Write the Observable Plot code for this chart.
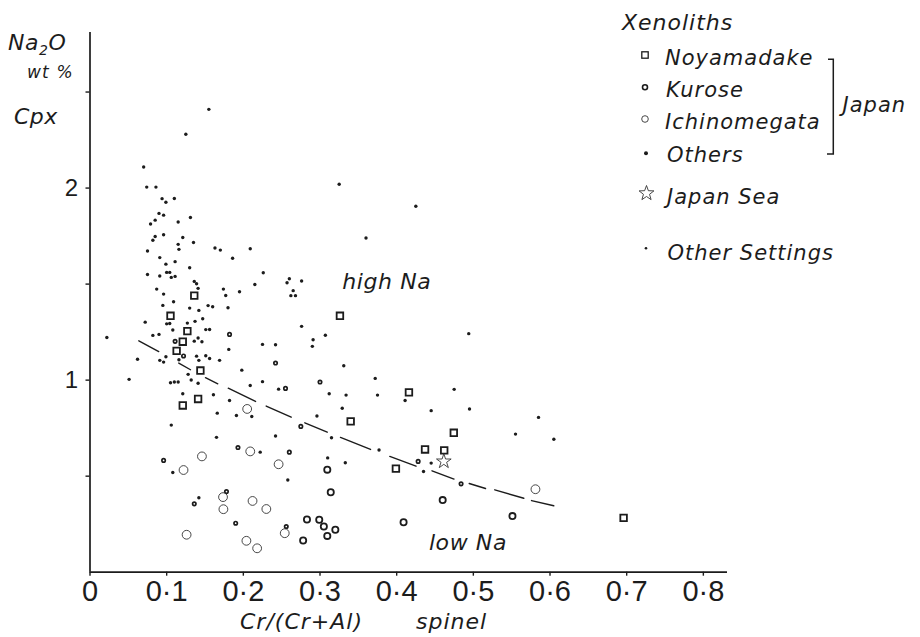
<!DOCTYPE html>
<html><head><meta charset="utf-8">
<script src="https://cdn.jsdelivr.net/npm/d3@7"></script>
<script src="https://cdn.jsdelivr.net/npm/@observablehq/plot@0.6"></script>
<style>
body{margin:0;background:#fff;}
#wrap{position:relative;width:920px;height:637px;overflow:hidden;}
#wrap > svg{position:absolute;left:0;top:0;}
#overlay{pointer-events:none;}
</style></head><body><div id="wrap"></div>
<script>
// ---- data (Cr/(Cr+Al) spinel, Na2O wt% cpx) ----
const otherSettings = [
[0.155,2.41],[0.125,2.28],[0.325,2.02],[0.425,1.905],[0.360,1.74],
[0.070,2.11],[0.074,2.005],[0.086,2.005],[0.094,1.945],[0.099,1.926],[0.110,1.946],[0.090,1.868],[0.096,1.859],[0.085,1.833],[0.079,1.813],[0.115,1.823],[0.131,1.847],[0.085,1.748],[0.082,1.728],[0.096,1.757],[0.121,1.743],[0.115,1.707],[0.116,1.681],[0.135,1.717],[0.075,1.672],[0.163,1.688],[0.170,1.677],[0.091,1.638],[0.111,1.617],[0.099,1.604],
[0.209,1.684],[0.186,1.635],[0.226,1.559],[0.215,1.498],[0.257,1.507],[0.260,1.528],[0.276,1.516],[0.265,1.466],[0.262,1.44],[0.268,1.44],[0.174,1.474],[0.177,1.441],[0.195,1.46],[0.180,1.377],
[0.130,1.585],[0.075,1.55],[0.091,1.542],[0.100,1.561],[0.104,1.561],[0.106,1.535],[0.111,1.54],[0.136,1.514],[0.139,1.502],[0.141,1.478],[0.087,1.474],[0.096,1.448],[0.109,1.408],[0.095,1.389],[0.130,1.375],[0.142,1.363],[0.154,1.388],[0.160,1.382],[0.072,1.302],[0.100,1.293],[0.104,1.295],[0.108,1.261],[0.127,1.297],[0.137,1.306],[0.147,1.32],[0.151,1.263],[0.156,1.264],[0.082,1.233],[0.090,1.238],[0.022,1.222],[0.136,1.203],[0.141,1.219],[0.146,1.2],[0.139,1.125],[0.151,1.127],[0.156,1.113],[0.062,1.109],[0.091,1.103],[0.096,1.094],[0.099,1.122],[0.116,1.106],[0.142,1.103],[0.169,1.103],[0.128,1.03],
[0.051,1.004],[0.105,0.986],[0.110,0.99],[0.115,0.99],[0.132,1.001],[0.141,0.984],[0.121,0.929],[0.161,0.924],[0.166,0.828],[0.106,0.766],[0.165,0.702],[0.182,0.894],[0.191,0.816],[0.211,0.811],[0.242,0.709],[0.222,0.625],[0.296,0.813],[0.315,0.70],[0.310,0.595],[0.258,0.48],[0.209,0.972],[0.225,0.992],[0.246,0.953],[0.312,0.929],[0.198,1.052],[0.181,1.16],[0.225,1.186],[0.242,1.184],[0.276,1.28],[0.291,1.21],[0.290,1.176],[0.307,1.234],[0.108,0.519],[0.142,0.388],
[0.331,1.075],[0.372,1.009],[0.334,0.922],[0.375,0.922],[0.475,0.952],[0.411,0.894],[0.329,0.854],[0.445,0.841],[0.495,0.85],[0.494,1.242],[0.377,0.636],[0.333,0.57],[0.445,0.568],[0.435,0.524],[0.555,0.719],[0.585,0.806],[0.605,0.692]
];
const japanOthers = [
[0.182,1.238],[0.111,1.202],[0.122,1.126],[0.242,1.089],[0.255,0.957],[0.300,0.99],[0.275,0.759],[0.193,0.649],[0.260,0.625],[0.096,0.582],[0.178,0.42],[0.136,0.356],[0.190,0.255],[0.256,0.238],[0.428,0.577],[0.484,0.46]
];
const kurose = [
[0.3095,0.534],[0.314,0.416],[0.283,0.274],[0.299,0.273],[0.305,0.238],[0.320,0.221],[0.3095,0.189],[0.278,0.165],[0.409,0.26],[0.460,0.3755],[0.551,0.292]
];
const ichinomegata = [
[0.205,0.85],[0.209,0.629],[0.146,0.603],[0.122,0.532],[0.246,0.562],[0.1735,0.391],[0.174,0.328],[0.212,0.371],[0.230,0.329],[0.126,0.195],[0.254,0.203],[0.204,0.1635],[0.218,0.1245],[0.581,0.432]
];
const noyamadake = [
[0.136,1.44],[0.105,1.335],[0.127,1.255],[0.121,1.20],[0.113,1.152],[0.144,1.05],[0.121,0.868],[0.141,0.902],[0.326,1.335],[0.340,0.785],[0.416,0.936],[0.4745,0.726],[0.437,0.639],[0.462,0.634],[0.399,0.539],[0.696,0.283]
];
const japanSea = [[0.4615,0.577]];
// boundary curve, drawn as long dashes (start/end of each dash)
const boundaryDashes = [
[[0.0637,1.205],[0.0897,1.149]],
[[0.1158,1.089],[0.1311,1.054]],
[[0.1506,1.0125],[0.1667,0.981]],
[[0.1803,0.958],[0.2159,0.889]],
[[0.2298,0.865],[0.2624,0.807]],
[[0.2802,0.778],[0.3094,0.729]],
[[0.3267,0.702],[0.3659,0.639]],
[[0.391,0.603],[0.4252,0.552]],
[[0.4461,0.528],[0.4748,0.485]],
[[0.4946,0.462],[0.5159,0.436]],
[[0.528,0.429],[0.5658,0.385]],
[[0.5759,0.373],[0.6049,0.346]]
];
const xTicks = [0,0.1,0.2,0.3,0.4,0.5,0.6,0.7,0.8];
const yTicks = [0.5,1,1.5,2,2.5];
const yTickLabels = [1,2];
const regionLabels = [{x:0.329,y:1.472,text:"high Na"},{x:0.442,y:0.113,text:"low Na"}];

const dashRows = boundaryDashes.flatMap((seg,i)=>seg.map(p=>({id:i,x:p[0],y:p[1]})));
const ink = "#1c1c1c";
const italic = "DejaVu Sans, sans-serif";

const chart = Plot.plot({
  width: 920, height: 637,
  marginLeft: 89.5, marginRight: 193, marginTop: 32, marginBottom: 65.3,
  style: {background: "white", color: ink, fontFamily: "Liberation Sans, Arial, sans-serif"},
  x: {domain: [0, 0.8315]},
  y: {domain: [0, 2.81]},
  marks: [
    Plot.axisX({ticks: xTicks, tickSize: 4, tickPadding: 4, fontSize: 29, label: null, strokeWidth: 1.4,
      tickFormat: d => d === 0 ? "0" : d.toFixed(1).replace(".", "\u00B7")}),
    Plot.axisY({ticks: yTicks, tickSize: 4, tickPadding: 8, fontSize: 24, label: null, strokeWidth: 1.4,
      tickFormat: d => yTickLabels.includes(d) ? String(d) : ""}),
    Plot.ruleX([0], {stroke: ink, strokeWidth: 1.7}),
    Plot.ruleY([0], {stroke: ink, strokeWidth: 1.7}),
    Plot.line(dashRows, {x: "x", y: "y", z: "id", stroke: ink, strokeWidth: 1.4}),
    Plot.dot(otherSettings, {x: d => d[0], y: d => d[1], r: 1.7, fill: ink}),
    Plot.dot(japanOthers, {x: d => d[0], y: d => d[1], r: 1.7, fill: "white", stroke: ink, strokeWidth: 1.7}),
    Plot.dot(kurose, {x: d => d[0], y: d => d[1], r: 3.1, fill: "none", stroke: ink, strokeWidth: 1.8}),
    Plot.dot(ichinomegata, {x: d => d[0], y: d => d[1], r: 4.4, fill: "none", stroke: "#333", strokeWidth: 0.9}),
    Plot.dot(noyamadake, {x: d => d[0], y: d => d[1], symbol: "square", r: 3.7, fill: "none", stroke: ink, strokeWidth: 1.8}),
    Plot.dot(japanSea, {x: d => d[0], y: d => d[1], symbol: "star", r: 4.6, fill: "white", stroke: "#333", strokeWidth: 0.9}),
    Plot.text(regionLabels, {x: "x", y: "y", text: "text", textAnchor: "start", lineAnchor: "bottom",
      fontSize: 22, fontStyle: "italic", fontFamily: italic, fill: ink})
  ]
});
document.getElementById("wrap").appendChild(chart);
chart.querySelectorAll('[aria-label="region"], text').forEach(()=>{});
// letter spacing on region labels
chart.querySelectorAll('g[font-style="italic"] text, g[font-family^="DejaVu"] text').forEach(t=>t.setAttribute("letter-spacing","0.6"));

// star for legend
function starPts(cx, cy, R, r){
  const pts=[];
  for(let i=0;i<10;i++){const a=-Math.PI/2+i*Math.PI/5;const rr=i%2?r:R;pts.push((cx+rr*Math.cos(a)).toFixed(2)+","+(cy+rr*Math.sin(a)).toFixed(2));}
  return pts.join(" ");
}
const legendItems = ["Noyamadake","Kurose","Ichinomegata","Others","Japan Sea","Other Settings"];
const ov = `
<svg id="overlay" width="920" height="637" xmlns="http://www.w3.org/2000/svg" font-family="${italic}" font-style="italic" fill="${ink}">
  <text x="8" y="50" font-size="22" letter-spacing="0.5">Na<tspan font-size="14" dy="5">2</tspan><tspan dy="-5">O</tspan></text>
  <text x="27" y="78" font-size="17" letter-spacing="1.2">wt %</text>
  <text x="14" y="124" font-size="22" letter-spacing="0.5">Cpx</text>
  <text x="240" y="629" font-size="22" letter-spacing="1">Cr/(Cr+Al)</text>
  <text x="416" y="629" font-size="22" letter-spacing="1">spinel</text>
  <text x="622" y="30" font-size="22" letter-spacing="1">Xenoliths</text>
  <rect x="641.8" y="51.8" width="6.4" height="6.4" fill="none" stroke="${ink}" stroke-width="1.3"/>
  <text x="665" y="65" font-size="21" letter-spacing="1">${legendItems[0]}</text>
  <circle cx="645" cy="87.3" r="2.5" fill="none" stroke="${ink}" stroke-width="1.6"/>
  <text x="666" y="96.5" font-size="21" letter-spacing="1">${legendItems[1]}</text>
  <circle cx="645" cy="119" r="3.3" fill="none" stroke="#333" stroke-width="0.9"/>
  <text x="665" y="128.5" font-size="21" letter-spacing="1">${legendItems[2]}</text>
  <circle cx="646" cy="153.3" r="2" fill="${ink}"/>
  <text x="667" y="162" font-size="21" letter-spacing="1">${legendItems[3]}</text>
  <polygon points="${starPts(646.5,193.3,7.8,3.2)}" fill="none" stroke="#333" stroke-width="0.9"/>
  <text x="667" y="203.5" font-size="21" letter-spacing="1">${legendItems[4]}</text>
  <circle cx="646" cy="248.3" r="1.3" fill="${ink}"/>
  <text x="667.5" y="260" font-size="21" letter-spacing="1">${legendItems[5]}</text>
  <path d="M828,59.3H833.3V154H827" fill="none" stroke="${ink}" stroke-width="1.5"/>
  <text x="842.5" y="112" font-size="21" letter-spacing="1">Japan</text>
</svg>`;
document.getElementById("wrap").insertAdjacentHTML("beforeend", ov);
</script>
</body></html>
